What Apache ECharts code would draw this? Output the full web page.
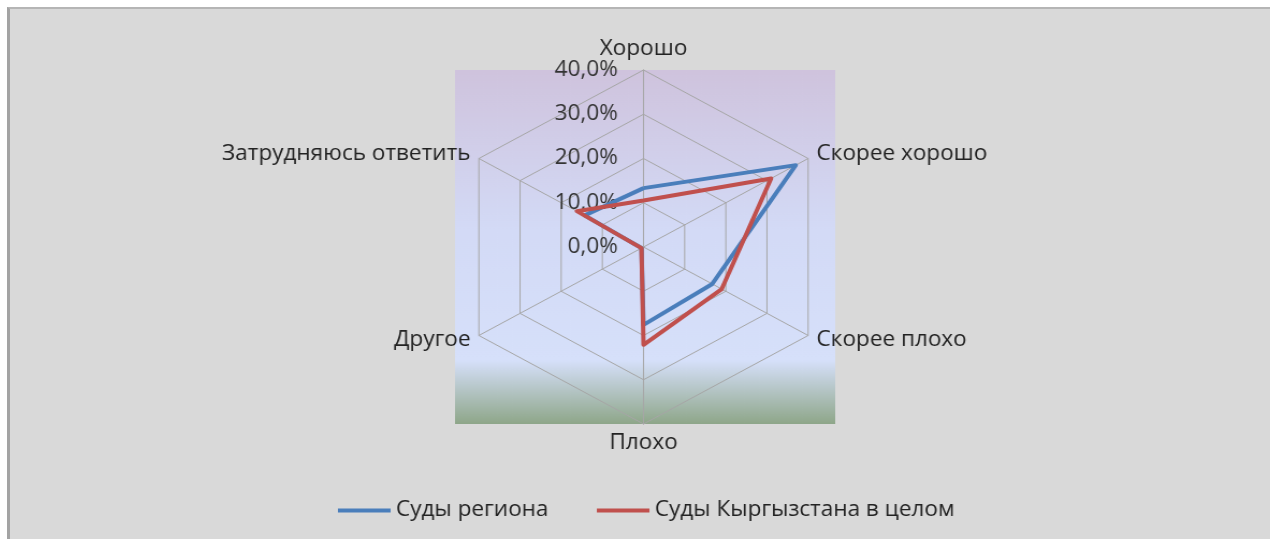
<!DOCTYPE html>
<html>
<head>
<meta charset="utf-8">
<script src="https://cdn.jsdelivr.net/npm/echarts@6/dist/echarts.min.js"></script>
<style>
    * { margin: 0; padding: 0; }
    body { background: #ffffff; width: 1270px; height: 539px; overflow: hidden; position: relative; }
    #panel {
        position: absolute; left: 7px; top: 7px; right: 0; bottom: 0;
        background: #d9d9d9;
        border-left: 3px solid #a3a3a3;
        border-top: 2px solid #b5b5b5;
    }
    /* картинка в оригинале немного растянута по горизонтали */
    #main {
        position: absolute; left: 0; top: 0; width: 1270px; height: 539px;
        transform: scaleX(1.074); transform-origin: 643.5px 0;
    }
</style>
</head>
<body>
<div id="panel"></div>
<div id="main"></div>
<script>
    var categories = ['Хорошо', 'Скорее хорошо', 'Скорее плохо', 'Плохо', 'Другое', 'Затрудняюсь ответить'];
    var seriesNames = ['Суды региона', 'Суды Кыргызстана в целом'];
    var regionData = [13.3, 37.0, 16.7, 17.6, 0.5, 14.3];
    var kgData = [10.5, 31.0, 19.0, 22.1, 0.5, 16.2];
    var maxValue = 40;
    var splitCount = 4;

    // echarts рисует оси против часовой стрелки, а в Excel - по часовой
    var order = [0, 5, 4, 3, 2, 1];
    function reorder(arr) {
        return order.map(function (i) { return arr[i]; });
    }

    var chart = echarts.init(document.getElementById('main'));

    var indicators = reorder(categories).map(function (name, i) {
        var ind = { name: name, min: 0, max: maxValue };
        if (i === 0) {
            ind.axisLabel = { show: true };   // подписи шкалы только на верхней оси
        }
        return ind;
    });

    chart.setOption({
        textStyle: { fontFamily: 'Open Sans' },
        color: ['#4a7ebb', '#c0504d'],
        graphic: [{
            type: 'rect',
            z: -10,
            shape: { x: 468, y: 70, width: 354, height: 354 },
            style: {
                fill: new echarts.graphic.LinearGradient(0, 0, 0, 1, [
                    { offset: 0, color: '#cfc3dd' },
                    { offset: 0.45, color: '#d3daf6' },
                    { offset: 0.82, color: '#d6e0fa' },
                    { offset: 1, color: '#8ea689' }
                ])
            }
        }],
        legend: {
            data: seriesNames,
            left: 354,
            top: 495,
            icon: 'rect',
            itemWidth: 49,
            itemHeight: 4,
            itemGap: 45,
            textStyle: { fontSize: 21, color: '#222', fontFamily: 'Open Sans' }
        },
        radar: {
            center: [643.5, 247],
            radius: 177,
            startAngle: 90,
            splitNumber: splitCount,
            shape: 'polygon',
            nameGap: 9,
            axisName: { color: '#222', fontSize: 21, fontFamily: 'Open Sans' },
            axisLine: { lineStyle: { color: '#a6a6a6', width: 1 } },
            splitLine: { lineStyle: { color: '#a6a6a6', width: 1 } },
            splitArea: { show: false },
            axisTick: { show: false },
            axisLabel: {
                show: false,
                margin: 24,
                fontSize: 21,
                color: '#333',
                fontFamily: 'Open Sans',
                formatter: function (v) { return v.toFixed(1).replace('.', ',') + '%'; }
            },
            indicator: indicators
        },
        series: [{
            type: 'radar',
            symbol: 'none',
            lineStyle: { width: 4 },
            data: [
                { name: seriesNames[0], value: reorder(regionData) },
                { name: seriesNames[1], value: reorder(kgData) }
            ]
        }]
    });
</script>
</body>
</html>
